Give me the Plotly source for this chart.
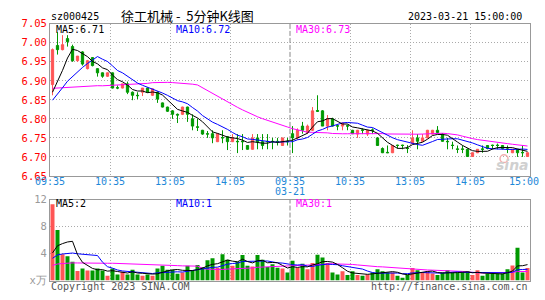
import plotly.graph_objects as go
import pandas as pd

W, H = 545, 300
def px(x): return x / W
def py(y): return 1 - y / H

# ---------------- data ----------------
opens = [6.89, 6.993, 6.982, 7.011, 6.99, 6.953, 6.976, 6.932, 6.961, 6.932, 6.921, 6.912,
         6.921, 6.882, 6.881, 6.892, 6.87, 6.862, 6.87, 6.881, 6.862, 6.87, 6.842, 6.831,
         6.821, 6.812, 6.812, 6.831, 6.80, 6.779, 6.77, 6.761, 6.761, 6.74, 6.751, 6.753,
         6.74, 6.741, 6.741, 6.73, 6.72, 6.75, 6.74, 6.741, 6.741, 6.741, 6.73, 6.741,
         6.761, 6.75, 6.781, 6.764, 6.77, 6.822, 6.821, 6.781, 6.80, 6.782, 6.781, 6.782,
         6.77, 6.76, 6.771, 6.76, 6.771, 6.75, 6.722, 6.712, 6.711, 6.731, 6.731, 6.723,
         6.735, 6.75, 6.741, 6.75, 6.76, 6.77, 6.76, 6.741, 6.731, 6.721, 6.721, 6.72,
         6.701, 6.711, 6.721, 6.73, 6.731, 6.731, 6.73, 6.721, 6.711, 6.72, 6.712, 6.701]
highs = [6.985, 7.028, 7.02, 7.02, 6.995, 6.965, 6.978, 6.955, 6.962, 6.933, 6.922, 6.922,
         6.922, 6.888, 6.892, 6.898, 6.872, 6.87, 6.881, 6.882, 6.879, 6.872, 6.843, 6.832,
         6.823, 6.814, 6.832, 6.832, 6.812, 6.80, 6.771, 6.768, 6.77, 6.762, 6.77, 6.755,
         6.76, 6.76, 6.76, 6.731, 6.76, 6.76, 6.76, 6.76, 6.75, 6.75, 6.75, 6.75,
         6.781, 6.775, 6.792, 6.785, 6.831, 6.862, 6.823, 6.81, 6.803, 6.785, 6.79, 6.785,
         6.771, 6.771, 6.775, 6.771, 6.775, 6.752, 6.725, 6.73, 6.731, 6.732, 6.732, 6.731,
         6.77, 6.76, 6.76, 6.771, 6.771, 6.781, 6.762, 6.75, 6.74, 6.73, 6.73, 6.722,
         6.712, 6.72, 6.73, 6.731, 6.732, 6.735, 6.731, 6.73, 6.721, 6.721, 6.73, 6.712]
lows = [6.862, 6.969, 6.98, 6.99, 6.95, 6.95, 6.94, 6.93, 6.938, 6.911, 6.908, 6.91,
        6.88, 6.878, 6.88, 6.865, 6.849, 6.852, 6.86, 6.869, 6.86, 6.842, 6.83, 6.818,
        6.80, 6.789, 6.81, 6.792, 6.77, 6.768, 6.758, 6.75, 6.736, 6.739, 6.736, 6.718,
        6.739, 6.71, 6.718, 6.719, 6.719, 6.72, 6.72, 6.72, 6.72, 6.73, 6.73, 6.73,
        6.71, 6.745, 6.761, 6.76, 6.768, 6.818, 6.781, 6.77, 6.78, 6.77, 6.77, 6.77,
        6.76, 6.75, 6.76, 6.755, 6.76, 6.73, 6.71, 6.71, 6.71, 6.722, 6.72, 6.71,
        6.734, 6.72, 6.74, 6.749, 6.759, 6.76, 6.74, 6.72, 6.72, 6.71, 6.71, 6.70,
        6.70, 6.71, 6.711, 6.72, 6.72, 6.72, 6.72, 6.71, 6.71, 6.70, 6.70, 6.70]
closes = [6.982, 6.982, 6.995, 7.003, 6.953, 6.965, 6.944, 6.953, 6.94, 6.921, 6.912, 6.921,
          6.881, 6.881, 6.892, 6.87, 6.862, 6.861, 6.881, 6.87, 6.879, 6.852, 6.831, 6.82,
          6.812, 6.81, 6.831, 6.812, 6.781, 6.778, 6.76, 6.76, 6.75, 6.761, 6.75, 6.74,
          6.75, 6.74, 6.74, 6.72, 6.75, 6.74, 6.73, 6.74, 6.74, 6.74, 6.75, 6.74,
          6.75, 6.77, 6.77, 6.781, 6.821, 6.82, 6.781, 6.80, 6.781, 6.781, 6.789, 6.781,
          6.761, 6.77, 6.77, 6.77, 6.77, 6.73, 6.711, 6.711, 6.73, 6.73, 6.73, 6.722,
          6.75, 6.741, 6.75, 6.77, 6.77, 6.764, 6.741, 6.74, 6.73, 6.72, 6.72, 6.701,
          6.711, 6.72, 6.72, 6.722, 6.73, 6.73, 6.722, 6.72, 6.72, 6.711, 6.711, 6.711]
volumes = [11.3, 7.5, 3.9, 3.6, 2.8, 1.4, 1.8, 1.5, 1.5, 1.8, 1.5, 0.7,
           1.8, 0.9, 1.3, 0.9, 1.6, 0.9, 0.7, 0.9, 0.7, 1.8, 2.2, 1.6,
           1.6, 1.0, 1.2, 2.2, 1.4, 2.3, 2.0, 3.0, 3.3, 1.9, 3.9, 3.1,
           2.2, 2.8, 3.8, 2.2, 2.1, 3.8, 3.1, 2.0, 2.4, 1.9, 1.8, 1.2,
           2.95, 1.86, 2.48, 1.67, 2.62, 3.81, 3.43, 2.62, 1.19, 0.9, 1.38, 0.81,
           1.38, 0.81, 0.71, 0.9, 1.19, 1.67, 1.38, 1.19, 1.19, 0.71, 0.43, 0.81,
           1.86, 1.52, 1.19, 1.38, 1.05, 0.81, 1.19, 1.52, 1.19, 1.19, 1.19, 1.38,
           0.81, 1.52, 0.71, 1.05, 1.05, 1.05, 1.05, 1.67, 2.24, 4.86, 1.19, 1.86]
# closes / volumes of the previous session (only feed the moving averages)
prev_closes = [6.96, 6.95, 6.95, 6.94, 6.94, 6.93, 6.93, 6.92, 6.93, 6.92,
               6.90, 6.88, 6.87, 6.86, 6.86, 6.85, 6.84, 6.84, 6.83, 6.82,
               6.83, 6.82, 6.83, 6.83, 6.83, 6.84, 6.85, 6.84, 6.838]
prev_volumes = [1.5, 1.8, 1.6, 1.9, 1.7, 1.5, 1.8, 1.6, 1.7, 2.0,
                1.6, 1.7, 1.5, 1.8, 1.9, 1.6, 1.7, 1.8, 1.9, 2.0,
                2.4, 2.6, 2.5, 2.5, 2.5, 2.2, 2.3, 2.4, 2.3]
time_labels = ["09:35", "10:35", "13:05", "14:05", "09:35", "10:35", "13:05", "14:05", "15:00"]
date_label = "03-21"
price_ticks = [6.65, 6.70, 6.75, 6.80, 6.85, 6.90, 6.95, 7.00, 7.05]
vol_ticks = [0, 4, 8, 12]
vol_ticktext = ["x万", "4", "8", "12"]
price_ma_text = ["MA5:6.71", "MA10:6.72", "MA30:6.73"]
vol_ma_text = ["MA5:2", "MA10:1", "MA30:1"]

# ---------------- derived ----------------
n = len(closes)
xs = list(range(n))
npc = len(prev_closes)
cs = pd.Series(prev_closes + closes)
vs = pd.Series(prev_volumes + volumes)
ma = {k: cs.rolling(k).mean().iloc[npc:].tolist() for k in (5, 10, 30)}
vma = {k: vs.rolling(k).mean().iloc[npc:].tolist() for k in (5, 10, 30)}

UP = "#FF5555"
DN = "#009900"
ma_colors = {5: "#000000", 10: "#0000FF", 30: "#FF00FF"}
MONO = "DejaVu Sans Mono"

fig = go.Figure()
fig.add_trace(go.Candlestick(
    x=xs, open=opens, high=highs, low=lows, close=closes,
    increasing=dict(line=dict(color=UP, width=1), fillcolor=UP),
    decreasing=dict(line=dict(color=DN, width=1), fillcolor=DN),
    whiskerwidth=0, xaxis="x", yaxis="y", showlegend=False, hoverinfo="skip"))
for k in (30, 10, 5):
    fig.add_trace(go.Scatter(x=xs, y=ma[k], mode="lines",
                             line=dict(color=ma_colors[k], width=1),
                             xaxis="x", yaxis="y", showlegend=False, hoverinfo="skip"))

vcolors = [UP if c > o else DN for o, c in zip(opens, closes)]
fig.add_trace(go.Bar(x=xs, y=volumes, marker=dict(color=vcolors, line=dict(width=0)),
                     width=0.8, xaxis="x2", yaxis="y2", showlegend=False, hoverinfo="skip"))
for k in (30, 10, 5):
    fig.add_trace(go.Scatter(x=xs, y=vma[k], mode="lines",
                             line=dict(color=ma_colors[k], width=1),
                             xaxis="x2", yaxis="y2", showlegend=False, hoverinfo="skip"))

grid_x = [11.5, 23.5, 35.5, 59.5, 71.5, 83.5]
GRID = "#AAAAAA"
BORDER = "#999999"
xaxis_common = dict(range=[-0.5, n - 0.5], domain=[px(50), px(530)],
                    tickvals=grid_x, showticklabels=False, ticks="",
                    showgrid=True, gridcolor=GRID, griddash="1px,2px", gridwidth=1,
                    showline=True, mirror=True, linecolor=BORDER, linewidth=1,
                    zeroline=False, fixedrange=True)

fig.update_layout(
    width=W, height=H, margin=dict(l=0, r=0, t=0, b=0),
    paper_bgcolor="white", plot_bgcolor="white", showlegend=False,
    boxgap=0.35, bargap=0.2,
    xaxis=dict(**xaxis_common, anchor="y", rangeslider=dict(visible=False)),
    xaxis2=dict(**xaxis_common, anchor="y2", matches="x"),
    yaxis=dict(domain=[py(177), py(18.5)], range=[6.65, 7.05], anchor="x",
               tickvals=price_ticks, ticktext=["%.2f" % v for v in price_ticks],
               tickfont=dict(family=MONO, size=10.5, color="#FF0000"), ticks="",
               showgrid=True, gridcolor=GRID, griddash="1px,2px",
               showline=True, mirror=True, linecolor=BORDER, zeroline=False, fixedrange=True),
    yaxis2=dict(domain=[py(286), py(201.7)], range=[0, 12], anchor="x2",
                tickvals=vol_ticks, ticktext=vol_ticktext,
                tickfont=dict(family=MONO, size=10.5, color="#999999"), ticks="",
                showgrid=True, gridcolor=GRID, griddash="1px,2px",
                showline=True, mirror=True, linecolor=BORDER, zeroline=False, fixedrange=True),
)

# day separator
for (y0, y1) in [(177, 18.5), (286, 201.7)]:
    fig.add_shape(type="line", xref="x", yref="paper", x0=n / 2 - 0.5, x1=n / 2 - 0.5,
                  y0=py(y0), y1=py(y1), line=dict(color="#888888", width=1, dash="5px,2px"))

ann = []
def text(x, y, s, color="#000000", size=10, xanchor="left", family=MONO, xref="paper"):
    ann.append(dict(x=x, y=y, xref=xref, yref="paper", text=s, showarrow=False,
                    xanchor=xanchor, yanchor="middle", align="left",
                    font=dict(family=family, size=size, color=color)))

# header
text(px(49), py(11), "sz000425", size=10)
text(px(119), py(10), "徐工机械&nbsp;-&nbsp;&nbsp;5分钟K线图", size=13, family="Noto Sans CJK SC")
text(px(524), py(11), "2023-03-21 15:00:00", size=10, xanchor="right")

# MA legends
for s, xx, c in zip(price_ma_text, [54, 174, 294], ["#000000", "#0000FF", "#FF00FF"]):
    text(px(xx), py(24), s, color=c, size=10)
for s, xx, c in zip(vol_ma_text, [54, 174, 294], ["#000000", "#0000FF", "#FF00FF"]):
    text(px(xx), py(205.5), s, color=c, size=10)

# time axis labels
TCOL = "#1E88D8"
label_pos = [-0.5 + 12 * k for k in range(9)]
for i, (s, xp) in enumerate(zip(time_labels, label_pos)):
    if i == len(time_labels) - 1:
        text(px(524), py(183.3), s, color=TCOL, size=10, xanchor="center")
    else:
        text(xp, py(183.3), s, color=TCOL, size=10, xanchor="center", xref="x")
text(n / 2 - 0.5, py(193), date_label, color=TCOL, size=10, xanchor="center", xref="x")

# footer
text(px(49), py(292), "Copyright 2023 SINA.COM", color="#555555", size=10)
text(px(530), py(292), "http://finance.sina.com.cn", color="#555555", size=10, xanchor="right")

# watermark
text(px(512), py(166), "<b><i>sina</i></b>", color="#D0D0D0", size=14, xanchor="center",
     family="DejaVu Sans")
fig.add_shape(type="circle", xref="paper", yref="paper", x0=px(500), x1=px(508),
              y0=py(163), y1=py(155), line=dict(color="#F2B0B0", width=1.5))

fig.update_layout(annotations=ann)
fig.write_html("out.html")
